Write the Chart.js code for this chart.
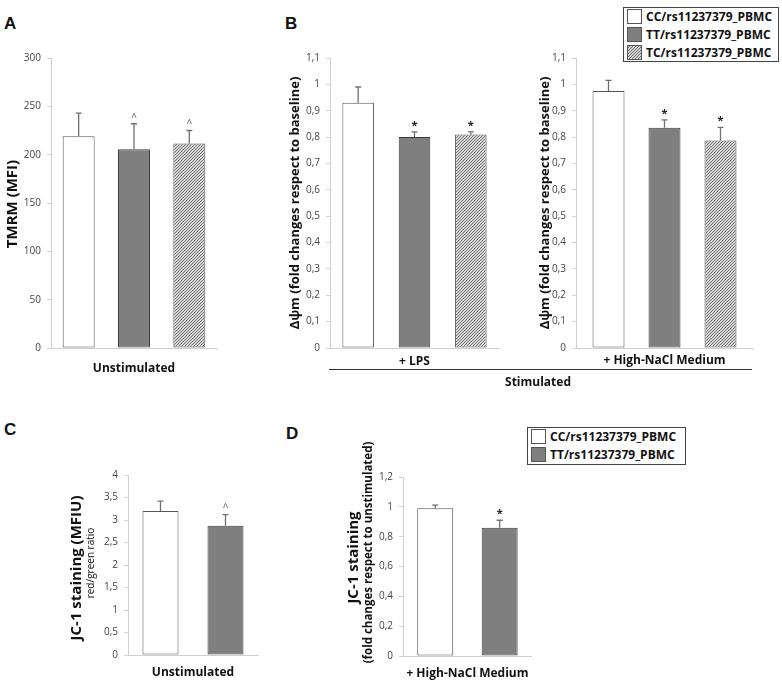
<!DOCTYPE html>
<html><head><meta charset="utf-8">
<script src="https://cdn.jsdelivr.net/npm/chart.js@4/dist/chart.umd.min.js"></script>
<style>
html,body{margin:0;padding:0;background:#fff;}
body{width:782px;height:682px;position:relative;overflow:hidden;font-family:"Open Sans",sans-serif;}
canvas{position:absolute;}
.letter{position:absolute;font:bold 17px "Liberation Sans",Arial,sans-serif;line-height:17px;color:#111;}
.legend{position:absolute;border:1px solid #444;background:#fff;box-sizing:border-box;z-index:5;}
.row{position:absolute;left:3px;height:16px;}
.sw{position:absolute;left:0;top:0;width:15px;height:15px;border:1px solid #555;box-sizing:border-box;}
.lt{position:absolute;left:19px;top:-1px;font:bold 12px "Open Sans",sans-serif;line-height:17px;color:#111;white-space:nowrap;}
.stimline{position:absolute;left:329px;top:369px;width:423px;border-top:1.4px solid #333;}
.stimtxt{position:absolute;left:438px;width:200px;top:373px;text-align:center;font:bold 12px "Open Sans",sans-serif;color:#111;}
</style></head>
<body>
<div class="letter" style="left:4px;top:15px">A</div>
<div class="letter" style="left:285px;top:15px">B</div>
<div class="letter" style="left:4px;top:421px">C</div>
<div class="letter" style="left:286px;top:425px">D</div>

<canvas id="cA" width="228" height="385" style="left:0;top:0"></canvas>
<canvas id="cB1" width="230" height="385" style="left:276px;top:0"></canvas>
<canvas id="cB2" width="240" height="385" style="left:522px;top:0"></canvas>
<canvas id="cC" width="270" height="242" style="left:0;top:440px"></canvas>
<canvas id="cD" width="215" height="242" style="left:330px;top:440px"></canvas>

<div class="stimline"></div>
<div class="stimtxt">Stimulated</div>

<div class="legend" id="legB" style="left:623px;top:7px;width:156px;height:55px"></div>
<div class="legend" id="legD" style="left:527px;top:427px;width:159px;height:38px"></div>

<script>
// ---------- DATA ----------
const genotypes = ['CC/rs11237379_PBMC', 'TT/rs11237379_PBMC', 'TC/rs11237379_PBMC'];

const tmrmCategory = ['Unstimulated'];
const tmrmMean = [219, 205.5, 211.5];
const tmrmErr = [24, 26.5, 13.5];
const tmrmMarks = ['', '^', '^'];

const lpsCategory = ['+ LPS'];
const lpsMean = [0.93, 0.80, 0.81];
const lpsErr = [0.06, 0.02, 0.01];
const lpsMarks = ['', '*', '*'];

const naclCategory = ['+ High-NaCl Medium'];
const naclMean = [0.975, 0.835, 0.787];
const naclErr = [0.04, 0.03, 0.05];
const naclMarks = ['', '*', '*'];

const jc1Category = ['Unstimulated'];
const jc1Mean = [3.2, 2.87];
const jc1Err = [0.22, 0.25];
const jc1Marks = ['', '^'];

const jc1NaclCategory = ['+ High-NaCl Medium'];
const jc1NaclMean = [0.99, 0.86];
const jc1NaclErr = [0.022, 0.05];
const jc1NaclMarks = ['', '*'];

// ---------- STYLE ----------
function hatch(){
  const c = document.createElement('canvas'); c.width = 3; c.height = 3;
  const g = c.getContext('2d');
  g.fillStyle = '#d6d6d6'; g.fillRect(0,0,3,3);
  g.strokeStyle = '#6a6a6a'; g.lineWidth = 0.9;
  g.beginPath();
  g.moveTo(-1,4); g.lineTo(4,-1);
  g.moveTo(-1,1); g.lineTo(1,-1);
  g.moveTo(2,4); g.lineTo(4,2);
  g.stroke();
  return g.createPattern(c,'repeat');
}
const fills = ['#ffffff', '#7f7f7f', hatch()];
const borders = ['#555555', '#3c3c3c', '#555555'];
const swatchCss = ['#ffffff', '#7f7f7f',
  'repeating-linear-gradient(135deg,#d6d6d6 0 1.2px,#6a6a6a 1.2px 2.1px)'];

const fmt = v => String(Math.round(v * 10) / 10).replace('.', ',');

const extras = {
  id: 'extras',
  afterDatasetsDraw(chart, args, o) {
    const ctx = chart.ctx, y = chart.scales.y;
    ctx.save();
    chart.data.datasets.forEach((ds, i) => {
      const bar = chart.getDatasetMeta(i).data[0];
      const top = y.getPixelForValue(ds.data[0]);
      const cap = y.getPixelForValue(ds.data[0] + ds.err[0]);
      ctx.strokeStyle = '#707070'; ctx.lineWidth = 1.3;
      ctx.beginPath();
      ctx.moveTo(bar.x, top); ctx.lineTo(bar.x, cap);
      ctx.moveTo(bar.x - 3, cap); ctx.lineTo(bar.x + 3, cap);
      ctx.stroke();
      const m = ds.mark;
      if (m) {
        ctx.fillStyle = m === '*' ? '#222' : '#555';
        ctx.font = m === '*' ? 'bold 11px "Open Sans"' : '10px "Open Sans"';
        ctx.textAlign = 'center'; ctx.textBaseline = 'middle';
        ctx.fillText(m, bar.x, cap - 6);
      }
    });
    const ca = chart.chartArea, cy = (ca.top + ca.bottom) / 2;
    (o.titles || []).forEach(t => {
      ctx.save();
      ctx.translate(t.x, cy + (t.dy || 0));
      ctx.rotate(-Math.PI / 2);
      ctx.font = t.font; ctx.fillStyle = '#111';
      ctx.textAlign = 'center'; ctx.textBaseline = 'middle';
      ctx.fillText(t.text, 0, 0);
      ctx.restore();
    });
    ctx.restore();
  }
};

function makeChart(id, cfg) {
  const cv = document.getElementById(id);
  const W = cv.width, H = cv.height;
  const L = cfg.area.L, T = cfg.area.T, R = cfg.area.R, B = cfg.area.B;
  const xH = 30;
  const datasets = cfg.means.map((m, i) => ({
    label: genotypes[i],
    data: [m],
    err: [cfg.errs[i]],
    mark: cfg.marks[i],
    backgroundColor: fills[i],
    borderColor: borders[i],
    borderWidth: 1,
    borderSkipped: false,
    categoryPercentage: cfg.catPct,
    barPercentage: cfg.barPct
  }));
  return new Chart(cv, {
    type: 'bar',
    data: { labels: cfg.labels, datasets },
    plugins: [extras],
    options: {
      responsive: false, animation: false, devicePixelRatio: 1,
      layout: { padding: { left: 0, top: T, right: W - R, bottom: H - B - xH } },
      plugins: { legend: { display: false }, tooltip: { enabled: false }, extras: { titles: cfg.titles } },
      scales: {
        x: {
          grid: { display: false, drawTicks: false },
          border: { display: true, color: '#cfcfcf', width: 1 },
          ticks: { padding: cfg.labPad, color: '#111', font: { family: 'Open Sans', weight: 'bold', size: 12 } },
          afterFit: s => { s.height = xH; }
        },
        y: {
          min: cfg.min, max: cfg.max,
          grid: { drawOnChartArea: false, drawTicks: true, tickLength: 4, color: '#d4d4d4' },
          border: { display: true, color: '#cfcfcf', width: 1 },
          ticks: { stepSize: cfg.step, padding: 6, color: '#444', font: { family: 'Open Sans', size: 10 }, callback: v => fmt(v) },
          afterFit: s => { s.width = L; }
        }
      }
    }
  });
}

const bTitle = '\u0394\u03C8m (fold changes respect to baseline)';

makeChart('cA', { area: { L: 51, T: 58, R: 217, B: 348 }, labels: tmrmCategory, means: tmrmMean, errs: tmrmErr, marks: tmrmMarks,
  min: 0, max: 300, step: 50, catPct: 1, barPct: 0.578, labPad: 13,
  titles: [{ text: 'TMRM (MFI)', font: 'bold 15px "Open Sans"', x: 13, dy: 1 }] });

makeChart('cB1', { area: { L: 54, T: 58, R: 223, B: 348 }, labels: lpsCategory, means: lpsMean, errs: lpsErr, marks: lpsMarks,
  min: 0, max: 1.1, step: 0.1, catPct: 1, barPct: 0.56, labPad: 6,
  titles: [{ text: bTitle, font: 'bold 13px "Open Sans"', x: 19, dy: 0 }] });

makeChart('cB2', { area: { L: 54, T: 58, R: 231, B: 348 }, labels: naclCategory, means: naclMean, errs: naclErr, marks: naclMarks,
  min: 0, max: 1.1, step: 0.1, catPct: 0.949, barPct: 0.571, labPad: 5,
  titles: [{ text: bTitle, font: 'bold 13px "Open Sans"', x: 23, dy: 0 }] });

makeChart('cC', { area: { L: 128, T: 35, R: 258, B: 215 }, labels: jc1Category, means: jc1Mean, errs: jc1Err, marks: jc1Marks,
  min: 0, max: 4, step: 0.5, catPct: 1, barPct: 0.554, labPad: 10,
  titles: [{ text: 'JC-1 staining (MFIU)', font: 'bold 15px "Open Sans"', x: 77, dy: 3 },
           { text: 'red/green ratio', font: '10px "Open Sans"', x: 91, dy: -2 }] });

makeChart('cD', { area: { L: 73, T: 37, R: 202, B: 216 }, labels: jc1NaclCategory, means: jc1NaclMean, errs: jc1NaclErr, marks: jc1NaclMarks,
  min: 0, max: 1.2, step: 0.2, catPct: 1, barPct: 0.558, labPad: 10,
  titles: [{ text: 'JC-1 staining', font: 'bold 15px "Open Sans"', x: 24, dy: -9 },
           { text: '(fold changes respect to unstimulated)', font: 'bold 11.5px "Open Sans"', x: 39, dy: -14 }] });

// ---------- LEGENDS ----------
function legend(id, n, tops) {
  const el = document.getElementById(id);
  for (let i = 0; i < n; i++) {
    const r = document.createElement('div'); r.className = 'row'; r.style.top = tops[i] + 'px';
    const s = document.createElement('div'); s.className = 'sw'; s.style.background = swatchCss[i];
    const t = document.createElement('div'); t.className = 'lt'; t.textContent = genotypes[i];
    r.appendChild(s); r.appendChild(t); el.appendChild(r);
  }
}
legend('legB', 3, [1, 19, 37]);
legend('legD', 2, [1, 19]);
</script>
</body></html>
